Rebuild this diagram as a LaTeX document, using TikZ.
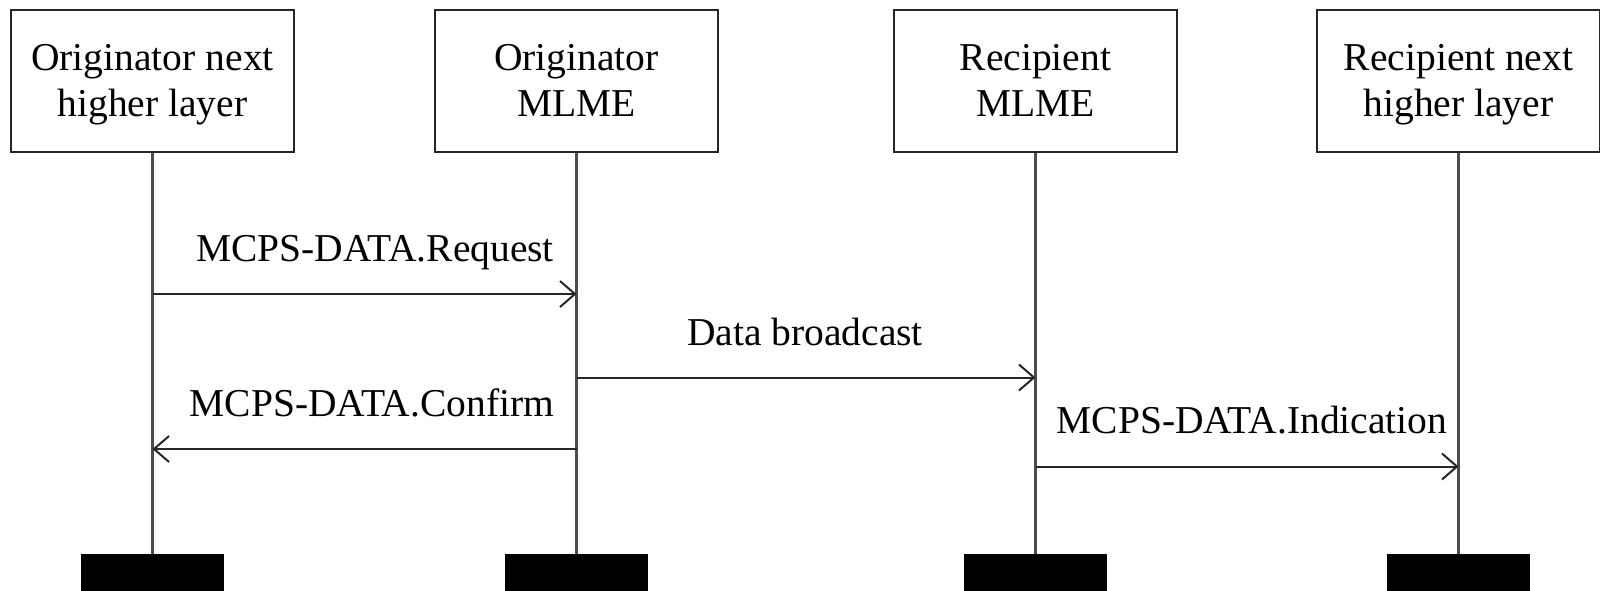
\documentclass[tikz,border=0pt]{standalone}
\usepackage{fontspec}
\setmainfont{Liberation Serif}
\usetikzlibrary{arrows.meta}
% two-line participant caption with fixed line heights
\newcommand\lanetext[2]{\rule{0pt}{38pt}#1\\#2\rule[-14pt]{0pt}{14pt}}
\begin{document}
\begin{tikzpicture}[x=1pt,y=-1pt,
  lane/.style={draw=black!85, line width=2pt, fill=white, minimum width=283pt,
    minimum height=142pt, inner sep=0pt, align=center,
    font=\fontsize{39.5}{46.5}\selectfont},
  life/.style={draw=black!70, line width=2.2pt},
  msg/.style={draw=black!85, line width=2pt,
    -{Straight Barb[length=15pt,width=26pt,line width=2pt]}},
  lbl/.style={anchor=base, inner sep=0pt, font=\fontsize{39.5}{46}\selectfont},
  endbar/.style={fill=black, minimum width=143pt, minimum height=37pt,
    inner sep=0pt, anchor=north}
]
\useasboundingbox (0,0) rectangle (1600,590);

% participants
\node[lane] (onhl) at (152.5,81.3)   {\lanetext{Originator next}{higher layer}};
\node[lane] (omlme) at (576.5,81.3)  {\lanetext{Originator}{MLME}};
\node[lane] (rmlme) at (1035.5,81.3) {\lanetext{Recipient}{MLME}};
\node[lane] (rnhl) at (1458.5,81.3)  {\lanetext{Recipient next}{higher layer}};

% end-of-lifeline bars
\node[endbar] (e1) at (152.5,554)  {};
\node[endbar] (e2) at (576.5,554)  {};
\node[endbar] (e3) at (1035.5,554) {};
\node[endbar] (e4) at (1458.5,554) {};

% lifelines
\draw[life] (onhl.south)  -- (e1.north);
\draw[life] (omlme.south) -- (e2.north);
\draw[life] (rmlme.south) -- (e3.north);
\draw[life] (rnhl.south)  -- (e4.north);

% message end points on the lifelines
\coordinate (reqA) at (152.5,294);
\coordinate (reqB) at (576.5,294);
\coordinate (bcA)  at (576.5,377.5);
\coordinate (bcB)  at (1035.5,377.5);
\coordinate (cnfA) at (576.5,449);
\coordinate (cnfB) at (152.5,449);
\coordinate (indA) at (1035.5,466.5);
\coordinate (indB) at (1458.5,466.5);

% messages
\draw[msg] (reqA) -- (reqB);
\draw[msg] (bcA)  -- (bcB);
\draw[msg] (cnfA) -- (cnfB);
\draw[msg] (indA) -- (indB);

% message labels
\node[lbl] (lreq) at (375,261)  {MCPS-DATA.Request};
\node[lbl] (lbc)  at (805,345)  {Data broadcast};
\node[lbl] (lcnf) at (372,416)  {MCPS-DATA.Confirm};
\node[lbl] (lind) at (1252,433) {MCPS-DATA.Indication};
\end{tikzpicture}
\end{document}
